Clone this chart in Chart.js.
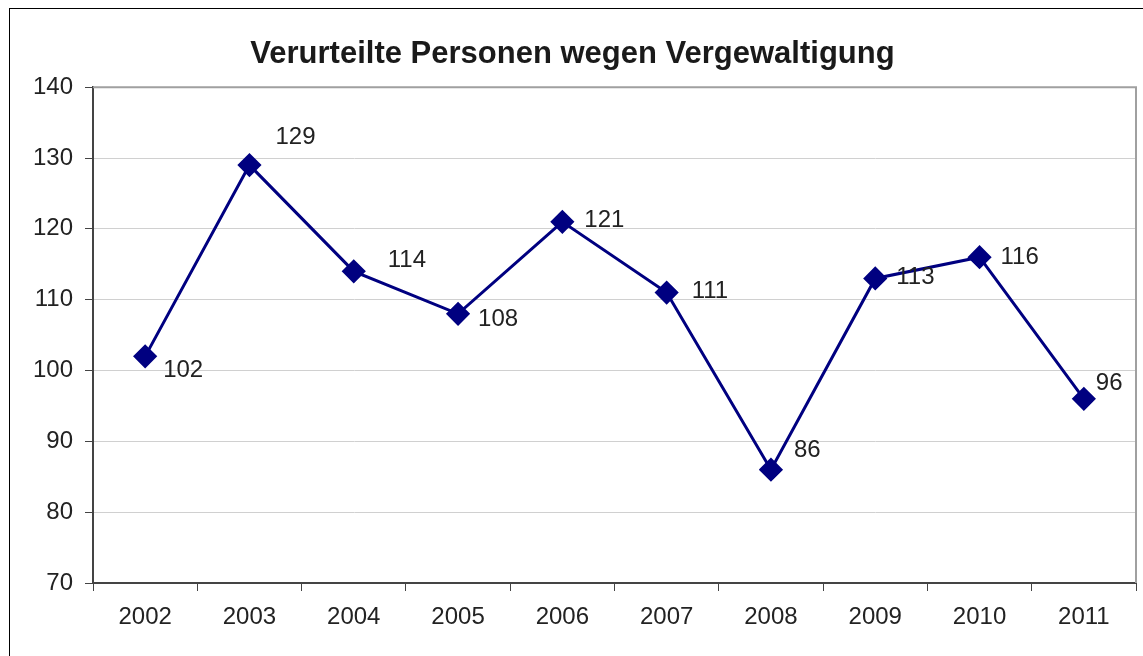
<!DOCTYPE html>
<html>
<head>
<meta charset="utf-8">
<script src="https://cdn.jsdelivr.net/npm/chart.js@4"></script>
<style>
  body { margin: 0; background: #fff; overflow: hidden; }
  #frame { position: absolute; left: 9px; top: 8px; width: 1140px; height: 660px; border: 1px solid #000; box-sizing: border-box; }
  #wrap { position: absolute; left: 0; top: 0; width: 1143px; height: 656px; }
</style>
</head>
<body>
<div id="frame"></div>
<div id="wrap"><canvas id="chart"></canvas></div>
<script>
const years = ["2002", "2003", "2004", "2005", "2006", "2007", "2008", "2009", "2010", "2011"];
const convicted = [102, 129, 114, 108, 121, 111, 86, 113, 116, 96];
const yTicks = [70, 80, 90, 100, 110, 120, 130, 140];

// where each value label sits relative to its point (like Excel placed them)
const labelOffsets = [[18, 14], [26, -28], [34, -11], [20, 6], [22, -1], [25, -1], [23, -19], [21, -1], [21, 0], [12, -15]];

const valueLabels = {
  id: "valueLabels",
  afterDatasetsDraw(chart) {
    const ctx = chart.ctx;
    const meta = chart.getDatasetMeta(0);
    ctx.save();
    ctx.font = "24px 'Liberation Sans', Arial, sans-serif";
    ctx.fillStyle = "#222";
    ctx.textAlign = "left";
    ctx.textBaseline = "middle";
    meta.data.forEach((pt, i) => {
      const off = labelOffsets[i];
      ctx.fillText(String(convicted[i]), pt.x + off[0], pt.y + off[1]);
    });
    ctx.restore();
  }
};

const plotBorder = {
  id: "plotBorder",
  beforeDatasetsDraw(chart) {
    const a = chart.chartArea;
    const ctx = chart.ctx;
    ctx.save();
    ctx.strokeStyle = "#a0a0a0";
    ctx.lineWidth = 2;
    ctx.beginPath();
    ctx.moveTo(a.left, a.top);
    ctx.lineTo(a.right, a.top);
    ctx.lineTo(a.right, a.bottom);
    ctx.stroke();
    ctx.restore();
  }
};

new Chart(document.getElementById("chart"), {
  type: "line",
  data: {
    labels: years,
    datasets: [{
      data: convicted,
      borderColor: "#000080",
      backgroundColor: "#000080",
      borderWidth: 3,
      pointStyle: "rectRot",
      pointRadius: 10,
      pointHoverRadius: 10,
      tension: 0
    }]
  },
  options: {
    responsive: true,
    maintainAspectRatio: false,
    animation: false,
    layout: { autoPadding: false, padding: { left: 9, right: 7, top: 0, bottom: 0 } },
    plugins: {
      legend: { display: false },
      tooltip: { enabled: false },
      title: {
        display: true,
        text: "Verurteilte Personen wegen Vergewaltigung",
        color: "#1a1a1a",
        font: { family: "'Liberation Sans', Arial, sans-serif", size: 31, weight: "bold" },
        padding: { top: 36, bottom: 14 }
      }
    },
    scales: {
      x: {
        offset: true,
        grid: { offset: true, drawOnChartArea: false, tickLength: 8, tickColor: "#444" },
        border: { color: "#444", width: 2 },
        ticks: { color: "#222", padding: 12, font: { family: "'Liberation Sans', Arial, sans-serif", size: 24 } },
        afterFit(scale) {
          scale.height = 73;
          scale.paddingLeft = 0;
          scale.paddingRight = 0;
        }
      },
      y: {
        min: 70,
        max: 140,
        afterBuildTicks(scale) { scale.ticks = yTicks.map(v => ({ value: v })); },
        grid: { color: "#d0d0d0", tickLength: 8, tickColor: "#444" },
        border: { color: "#444", width: 2 },
        ticks: { color: "#222", padding: 12, font: { family: "'Liberation Sans', Arial, sans-serif", size: 24 } },
        afterFit(scale) { scale.width = 84; }
      }
    }
  },
  plugins: [plotBorder, valueLabels]
});
</script>
</body>
</html>
